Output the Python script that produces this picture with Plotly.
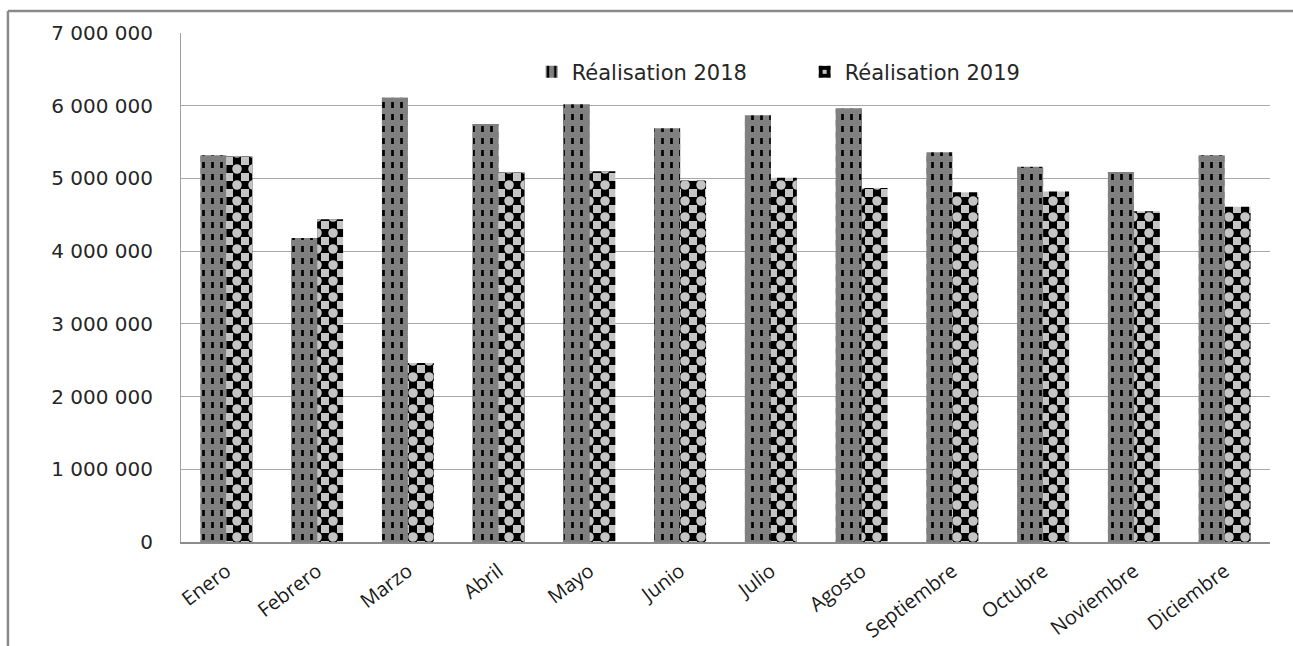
import plotly.graph_objects as go

# Monthly figures
months = ["Enero", "Febrero", "Marzo", "Abril", "Mayo", "Junio", "Julio",
          "Agosto", "Septiembre", "Octubre", "Noviembre", "Diciembre"]
real_2018 = [5320000, 4180000, 6110000, 5750000, 6020000, 5690000,
             5870000, 5960000, 5360000, 5160000, 5090000, 5320000]
real_2019 = [5300000, 4440000, 2460000, 5080000, 5100000, 4970000,
             5010000, 4870000, 4810000, 4820000, 4550000, 4610000]
y_ticks = [0, 1000000, 2000000, 3000000, 4000000, 5000000, 6000000, 7000000]

BAR_W = 0.286
GRAY = "#808080"
LIGHT = "#c4c4c4"
DARK = "#000000"
CLEAR = "rgba(0,0,0,0)"

fig = go.Figure()

# 2018: grey bar with black vertical lines ...
fig.add_trace(go.Bar(
    x=months, y=real_2018, name="Réalisation 2018",
    offset=-BAR_W, width=BAR_W,
    marker=dict(color=GRAY, line=dict(width=0),
                pattern=dict(shape="|", fgcolor=DARK, bgcolor=GRAY,
                             fgopacity=1, size=9, solidity=0.3)),
))
# ... broken into dashes by grey horizontal bands
fig.add_trace(go.Bar(
    x=months, y=real_2018, showlegend=False, hoverinfo="skip",
    offset=-BAR_W, width=BAR_W,
    marker=dict(color=CLEAR, line=dict(width=0),
                pattern=dict(shape="-", fgcolor=GRAY, bgcolor=CLEAR,
                             fgopacity=1, size=12, solidity=0.5)),
))

# 2019: checkerboard built from a black cross grid ...
fig.add_trace(go.Bar(
    x=months, y=real_2019, name="Réalisation 2019",
    offset=0, width=BAR_W,
    marker=dict(color=LIGHT, line=dict(width=0),
                pattern=dict(shape="+", fgcolor=DARK, bgcolor=LIGHT,
                             fgopacity=1, size=16, solidity=0.75)),
))
# ... with light cells punched into the cross centres
fig.add_trace(go.Bar(
    x=months, y=real_2019, showlegend=False, hoverinfo="skip",
    offset=0, width=BAR_W,
    marker=dict(color=CLEAR, line=dict(width=0),
                pattern=dict(shape=".", fgcolor=LIGHT, bgcolor=CLEAR,
                             fgopacity=1, size=16, solidity=0.28)),
))

# Outer frame (top and left edges)
frame = dict(type="line", xref="paper", yref="paper",
             line=dict(color="#8a8a8a", width=2.5), layer="above")
fig.add_shape(**frame, x0=-0.1589, x1=-0.1589, y0=-0.25, y1=1.0432)
fig.add_shape(**frame, x0=-0.1589, x1=1.05, y0=1.0432, y1=1.0432)

fig.update_layout(
    width=1293, height=646,
    margin=dict(l=181, r=23, t=33, b=104),
    paper_bgcolor="white", plot_bgcolor="white",
    barmode="overlay",
    separators=", ",
    showlegend=True,
    legend=dict(orientation="h", x=0.322, y=0.923, xanchor="left",
                yanchor="middle", bgcolor=CLEAR,
                font=dict(family="DejaVu Sans", size=21, color="#262626"),
                entrywidth=228, itemwidth=30),
    xaxis=dict(
        type="category", range=[-0.5, 11.5], automargin=False,
        showgrid=False, showline=True, linecolor="#8c8c8c", linewidth=1.5,
        ticks="", tickangle=-37, ticklabelstandoff=8,
        tickfont=dict(family="Open Sans", size=20, color="#1a1a1a"),
    ),
    yaxis=dict(
        range=[0, 7000000], tickvals=y_ticks, tickformat=",d",
        automargin=False,
        showgrid=True, gridcolor="#a8a8a8", gridwidth=1,
        showline=True, linecolor="#a0a0a0", linewidth=1,
        zeroline=False, ticks="", ticklabelstandoff=23,
        tickfont=dict(family="DejaVu Sans", size=20, color="#262626"),
    ),
)

fig.write_html("out.html")
